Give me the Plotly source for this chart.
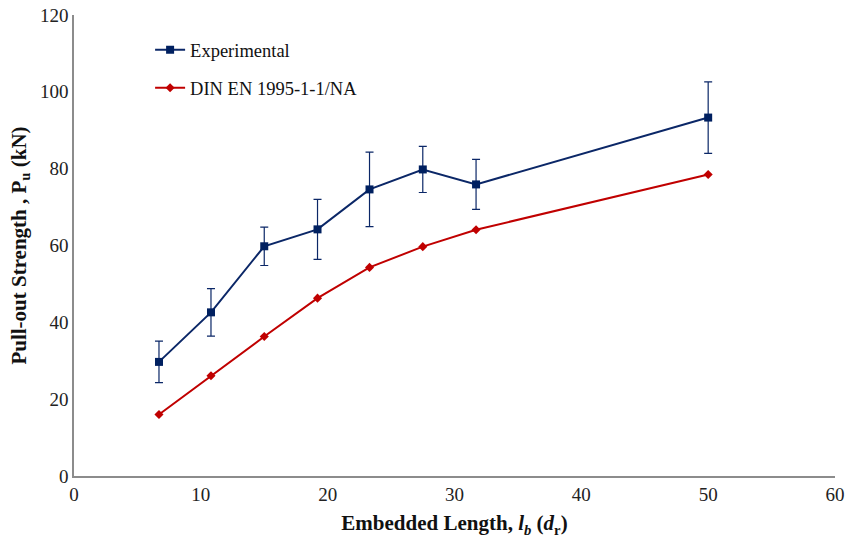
import plotly.graph_objects as go

embedded_length = [6.7, 10.8, 15.0, 19.2, 23.3, 27.5, 31.7, 50.0]
experimental = [29.7, 42.6, 59.8, 64.2, 74.6, 79.8, 75.9, 93.3]
experimental_err = [5.4, 6.2, 5.0, 7.8, 9.7, 6.0, 6.5, 9.3]
din_values = [16.0, 26.1, 36.3, 46.3, 54.3, 59.7, 64.1, 78.5]

FONT = "Liberation Serif, Times New Roman, serif"
NAVY = "#0B2767"
RED = "#C00000"

fig = go.Figure()
fig.add_trace(go.Scatter(
    x=embedded_length, y=experimental, name="Experimental",
    mode="lines+markers", legendgroup="a",
    line=dict(color=NAVY, width=2),
    marker=dict(symbol="square", size=8, color="#002060"),
    error_y=dict(type="data", array=experimental_err, visible=True,
                 color=NAVY, thickness=1.2, width=4),
))
fig.add_trace(go.Scatter(
    x=embedded_length, y=din_values, name="DIN EN 1995-1-1/NA",
    mode="lines+markers", legendgroup="b",
    line=dict(color=RED, width=2),
    marker=dict(symbol="diamond", size=7, color=RED),
))

fig.update_layout(
    width=845, height=541,
    margin=dict(l=74, r=10, t=15, b=65),
    paper_bgcolor="white", plot_bgcolor="white",
    font=dict(family=FONT, size=19, color="#222222"),
    showlegend=True,
    legend=dict(x=0.10, y=0.965, xanchor="left", yanchor="top",
                traceorder="grouped", tracegroupgap=11,
                itemwidth=30, font=dict(family=FONT, size=18.5, color="#111111"),
                bgcolor="rgba(0,0,0,0)"),
    xaxis=dict(range=[0, 60], tickvals=[0, 10, 20, 30, 40, 50, 60],
               showgrid=False, zeroline=False, showline=True, automargin=False,
               linecolor="#8C8C8C", linewidth=1.5, ticks="",
               tickfont=dict(family=FONT, size=19, color="#222222"),
               title=dict(text="<b>Embedded Length, <i>l<sub>b</sub></i> (<i>d</i><sub>r</sub>)</b>",
                          font=dict(family=FONT, size=21, color="#111111"), standoff=12)),
    yaxis=dict(range=[0, 120], tickvals=[0, 20, 40, 60, 80, 100, 120],
               showgrid=False, zeroline=False, showline=True, automargin=False,
               linecolor="#8C8C8C", linewidth=1.5, ticks="",
               tickfont=dict(family=FONT, size=19, color="#222222"),
               title=dict(text="<b>Pull-out Strength , P<sub>u</sub> (kN)</b>",
                          font=dict(family=FONT, size=21, color="#111111"), standoff=8)),
)

# remove the page's default 8px body margin so the figure fills the window
fig.write_html("out.html", config={"displayModeBar": False},
               post_script="document.body.style.margin='0';")
